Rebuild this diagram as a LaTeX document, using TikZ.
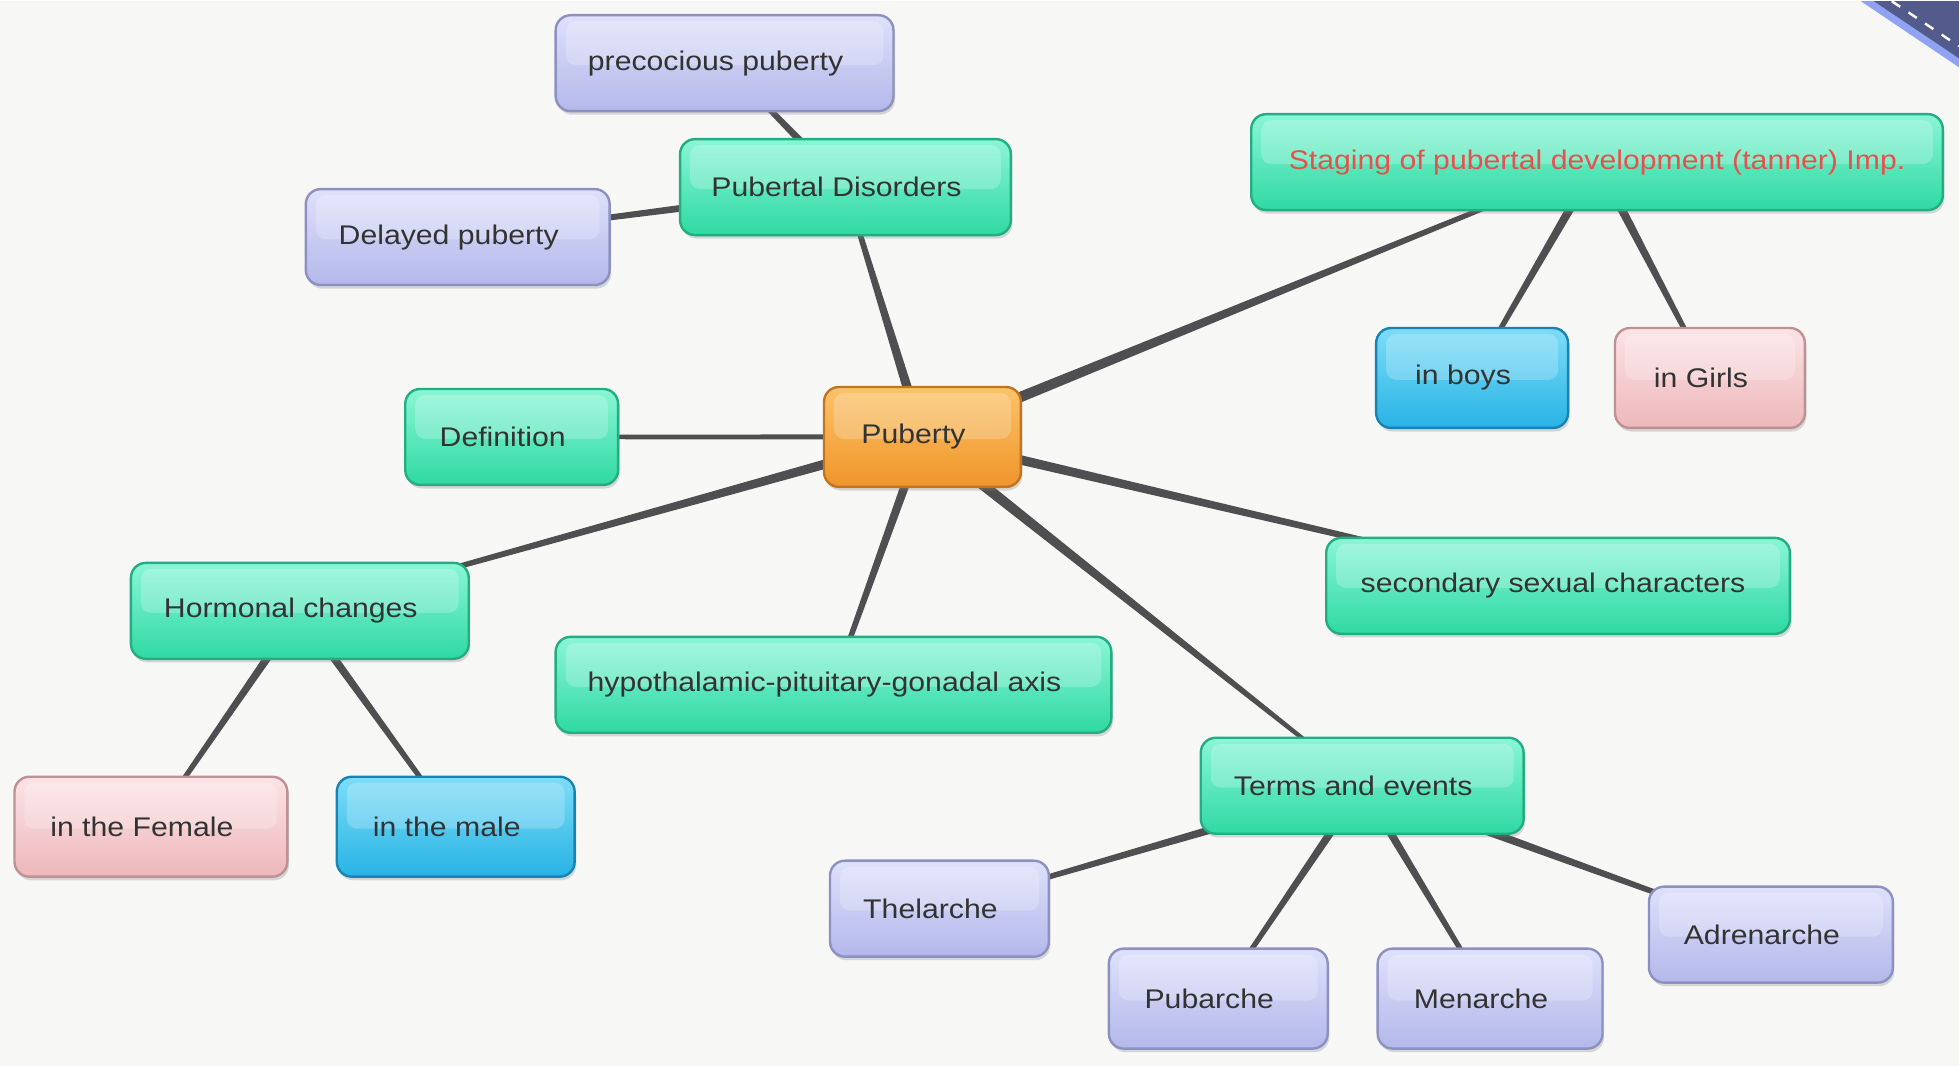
\documentclass[tikz,border=0pt]{standalone}
\usepackage{fontspec}
\setmainfont{Liberation Sans}[FakeStretch=1.12]
\usetikzlibrary{calc,shadows}
\definecolor{bgc}{HTML}{F7F7F6}
\definecolor{linkc}{HTML}{4F4F52}
\definecolor{txt}{HTML}{333333}
\definecolor{gtop}{HTML}{8AF6D6}
\definecolor{gbot}{HTML}{2FD9A2}
\definecolor{gbor}{HTML}{22AE82}
\definecolor{otop}{HTML}{FBC36A}
\definecolor{obot}{HTML}{F0952A}
\definecolor{obor}{HTML}{C27520}
\definecolor{ltop}{HTML}{DEE1FB}
\definecolor{lbot}{HTML}{B3B8EA}
\definecolor{lbor}{HTML}{8C91C2}
\definecolor{ptop}{HTML}{FCE3E5}
\definecolor{pbot}{HTML}{EDB8BB}
\definecolor{pbor}{HTML}{BE9295}
\definecolor{btop}{HTML}{7EDDF8}
\definecolor{bbot}{HTML}{27B3E4}
\definecolor{bbor}{HTML}{1983B2}
\definecolor{redt}{HTML}{E5524C}
\definecolor{cornc}{HTML}{535B8C}
\definecolor{cornl}{HTML}{8FA3F2}
\pgfdeclarelayer{back}
\pgfdeclarelayer{links}
\pgfsetlayers{back,links,main}
\tikzset{
  box/.style={rounded corners=7.5pt, line width=1.2pt, font=\fontsize{13.5}{16}\selectfont,
    text=txt, minimum height=48pt, inner sep=2pt,
    drop shadow={opacity=0.28, shadow xshift=0.8pt, shadow yshift=-1.8pt},
    path picture={\fill[white, opacity=0.22, rounded corners=5pt]
      ($(path picture bounding box.north west)+(5pt,-3pt)$) rectangle
      ($(path picture bounding box.east)+(-5pt,-1pt)$);}},
  gbox/.style={box, draw=gbor, top color=gtop, bottom color=gbot},
  obox/.style={box, draw=obor, top color=otop, bottom color=obot},
  lbox/.style={box, draw=lbor, top color=ltop, bottom color=lbot},
  pbox/.style={box, draw=pbor, top color=ptop, bottom color=pbot},
  bbox/.style={box, draw=bbor, top color=btop, bottom color=bbot},
  linkfill/.style={fill=linkc}
}
\newcommand\conn[4]{%
  \fill[linkfill] ($(#1)!#3!90:(#2)$) -- ($(#1)!#3!-90:(#2)$) --
    ($(#2)!#4!90:(#1)$) -- ($(#2)!#4!-90:(#1)$) -- cycle;}
\newcommand\lt{\kern-9pt}
\begin{document}
\begin{tikzpicture}[x=0.5pt,y=-0.5pt]
\begin{pgfonlayer}{back}
  \fill[bgc] (0,0) rectangle (1960,1065);
  \fill[cornl] (1862,0) -- (1960,66) -- (1960,0) -- cycle;
  \fill[cornc] (1875,0) -- (1960,57) -- (1960,0) -- cycle;
  \draw[white, line width=1.2pt, dash pattern=on 5pt off 5pt] (1893,0) -- (1960,45);
\end{pgfonlayer}
\useasboundingbox (0,0) rectangle (1960,1065);

\node[lbox, minimum width=169pt] (prec) at (725,62) {\lt precocious puberty};
\node[gbox, minimum width=165.5pt] (pd) at (846,186) {\lt Pubertal Disorders};
\node[lbox, minimum width=152pt] (del) at (458,236) {\lt Delayed puberty};
\node[gbox, minimum width=346pt, text=redt] (stag) at (1598,161) {Staging of pubertal development (tanner) Imp.};
\node[bbox, minimum width=96pt, minimum height=50pt] (boys) at (1473,377) {\lt in boys};
\node[pbox, minimum width=95pt, minimum height=50pt] (girls) at (1711,377) {\lt in Girls};
\node[gbox, minimum width=106.5pt] (def) at (512,436) {\lt Definition};
\node[obox, minimum width=98.5pt, minimum height=50pt] (pub) at (923,436) {\lt Puberty};
\node[gbox, minimum width=169pt] (horm) at (300,610) {\lt Hormonal changes};
\node[gbox, minimum width=232pt] (sec) at (1559,585) {\kern-5pt secondary sexual characters};
\node[gbox, minimum width=278pt] (hyp) at (834,684) {\lt hypothalamic-pituitary-gonadal axis};
\node[gbox, minimum width=161.5pt] (terms) at (1363,785) {\lt Terms and events};
\node[pbox, minimum width=136.5pt, minimum height=50pt] (fem) at (151,826) {\lt in the Female};
\node[bbox, minimum width=119pt, minimum height=50pt] (male) at (456,826) {\lt in the male};
\node[lbox, minimum width=109.5pt] (thel) at (940,908) {\lt Thelarche};
\node[lbox, minimum width=109.5pt, minimum height=50pt] (pubar) at (1219,998) {\lt Pubarche};
\node[lbox, minimum width=112.5pt, minimum height=50pt] (men) at (1491,998) {\lt Menarche};
\node[lbox, minimum width=122pt] (adr) at (1772,934) {\lt Adrenarche};

\begin{pgfonlayer}{links}
  \conn{pub}{pd}{2.6pt}{1.1pt}
  \conn{pub}{stag}{2.9pt}{0.9pt}
  \conn{pub}{def}{1.3pt}{1.1pt}
  \conn{pub}{horm}{2.6pt}{0.9pt}
  \conn{pub}{sec}{2.6pt}{1.0pt}
  \conn{pub}{hyp}{2.4pt}{1.1pt}
  \conn{pub}{terms}{2.9pt}{0.8pt}
  \conn{pd}{prec}{2.2pt}{1.0pt}
  \conn{pd}{del}{2.2pt}{1.0pt}
  \conn{stag}{boys}{2.4pt}{1.0pt}
  \conn{stag}{girls}{2.4pt}{1.0pt}
  \conn{horm}{fem}{2.2pt}{1.0pt}
  \conn{horm}{male}{2.2pt}{1.0pt}
  \conn{terms}{thel}{2.4pt}{1.0pt}
  \conn{terms}{pubar}{2.2pt}{1.0pt}
  \conn{terms}{men}{2.2pt}{1.0pt}
  \conn{terms}{adr}{2.4pt}{1.0pt}
\end{pgfonlayer}
\end{tikzpicture}
\end{document}
